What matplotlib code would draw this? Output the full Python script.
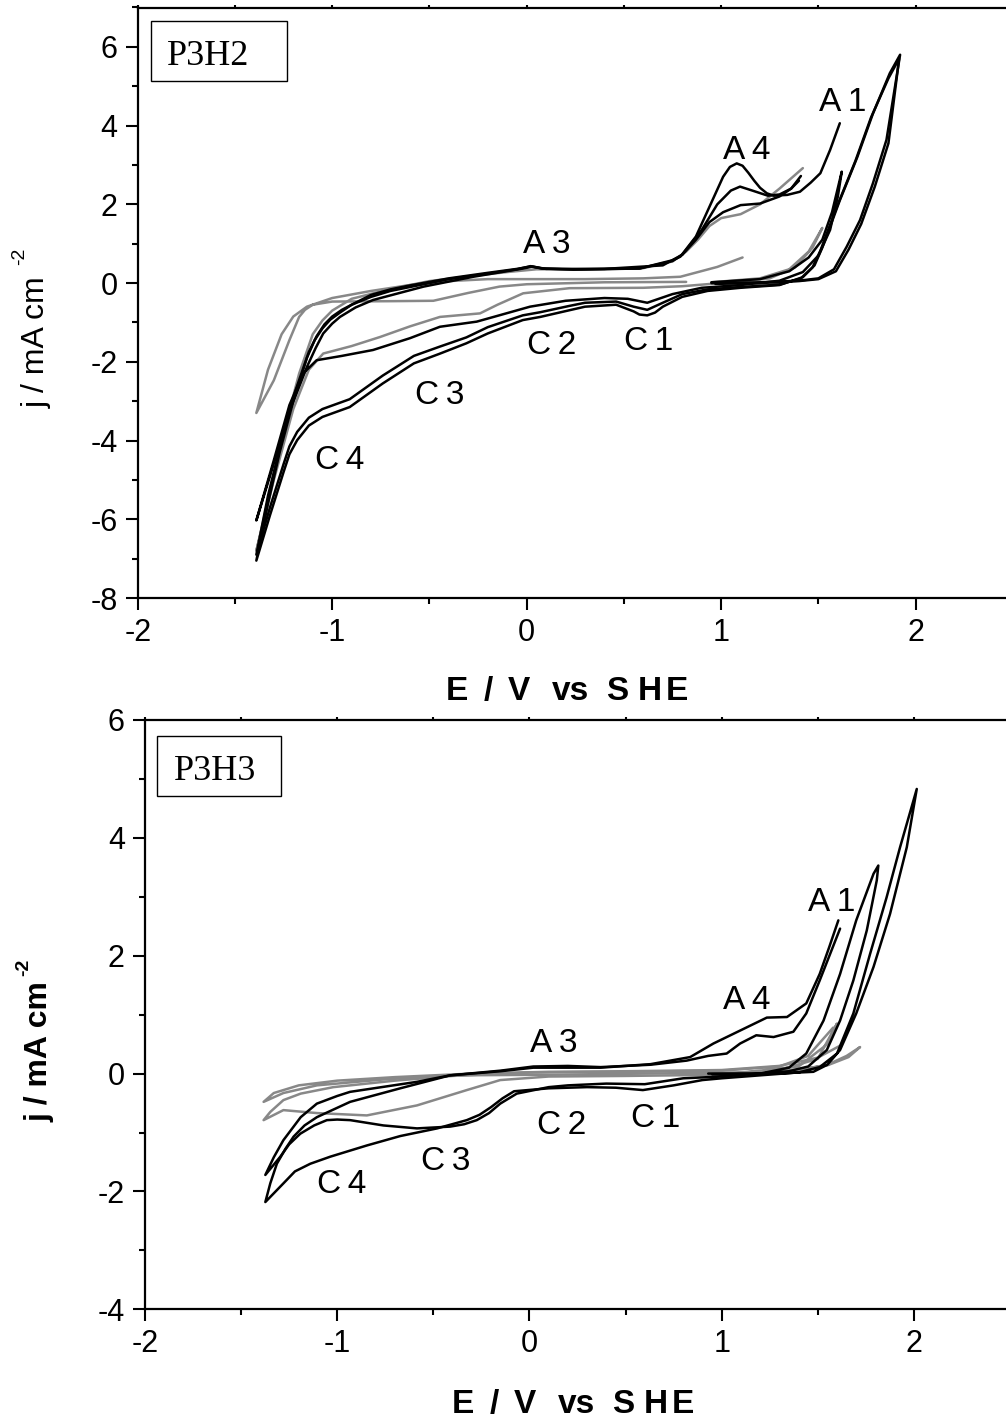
import matplotlib
matplotlib.use("Agg")
import matplotlib.pyplot as plt
from matplotlib.ticker import MultipleLocator
from matplotlib.patches import Rectangle

plt.rcParams['font.family'] = ['Liberation Sans', 'DejaVu Sans']
plt.rcParams['axes.unicode_minus'] = False

BLACK = 'black'
GREY = '#888888'

# ---- P3H2 (top panel) : potential E (V vs SHE) and current density j (mA cm-2)
h2_cyc1_E = [0.95, 1.2, 1.4, 1.5, 1.58, 1.645, 1.714, 1.78, 1.85, 1.92,
             1.867, 1.78, 1.70, 1.61, 1.56, 1.52, 1.48, 1.42, 1.3, 1.1, 0.93, 0.8, 0.7, 0.66, 0.62, 0.58,
             0.55, 0.46, 0.3, 0.22, 0.07, -0.02, -0.2, -0.31, -0.45, -0.58, -0.74, -0.91, -1.05, -1.12,
             -1.18, -1.22, -1.25, -1.32, -1.39,
             -1.33, -1.27, -1.2, -1.13, -1.09, -1.05, -1.01, -0.96, -0.9, -0.8, -0.7, -0.6, -0.4, -0.2,
             -0.05, 0.02, 0.08, 0.24, 0.58, 0.75, 0.79, 0.87, 0.94, 1.01, 1.045, 1.08, 1.11, 1.14, 1.17,
             1.2, 1.235, 1.27, 1.34, 1.405, 1.46, 1.51, 1.56, 1.61]
h2_cyc1_j = [0.0, 0.02, 0.06, 0.12, 0.35, 0.92, 1.6, 2.53, 3.64, 5.8,
             5.33, 4.3, 3.2, 2.1, 1.43, 0.9, 0.45, 0.15, -0.05, -0.12, -0.2, -0.35, -0.6, -0.75, -0.82, -0.8,
             -0.72, -0.55, -0.6, -0.69, -0.86, -0.94, -1.28, -1.53, -1.8, -2.04, -2.55, -3.15, -3.4, -3.62,
             -3.99, -4.35, -4.8, -5.9, -7.05,
             -5.6, -4.3, -3.0, -1.9, -1.45, -1.15, -0.93, -0.75, -0.55, -0.35, -0.2, -0.1, 0.1, 0.24,
             0.35, 0.43, 0.37, 0.35, 0.37, 0.58, 0.67, 1.18, 1.94, 2.7, 2.95, 3.04, 2.98, 2.8, 2.6,
             2.42, 2.28, 2.22, 2.24, 2.32, 2.55, 2.79, 3.38, 4.06]

h2_cyc2_E = [0.97, 1.2, 1.4, 1.5, 1.59, 1.655, 1.72, 1.79, 1.86, 1.915,
             1.86, 1.77, 1.69, 1.6, 1.55, 1.51, 1.47, 1.41, 1.3, 1.1, 0.93, 0.8, 0.7, 0.62, 0.55, 0.46,
             0.3, 0.22, 0.07, -0.02, -0.2, -0.31, -0.45, -0.58, -0.74, -0.91, -1.05, -1.12, -1.18, -1.22,
             -1.25, -1.32, -1.39,
             -1.33, -1.26, -1.19, -1.12, -1.08, -1.04, -1.0, -0.95, -0.88, -0.8, -0.7, -0.6, -0.4, -0.2,
             -0.05, 0.02, 0.08, 0.24, 0.58, 0.75, 0.8, 0.87, 0.94, 1.01, 1.1, 1.2, 1.3, 1.36, 1.40]
h2_cyc2_j = [-0.02, 0.0, 0.05, 0.1, 0.3, 0.85, 1.5, 2.45, 3.55, 5.7,
             5.2, 4.2, 3.1, 2.0, 1.35, 0.82, 0.4, 0.12, -0.04, -0.1, -0.16, -0.28, -0.5, -0.68, -0.6, -0.47,
             -0.5, -0.58, -0.74, -0.82, -1.12, -1.38, -1.62, -1.85, -2.35, -2.95, -3.2, -3.42, -3.78, -4.15,
             -4.6, -5.7, -6.9,
             -5.4, -4.0, -2.75, -1.75, -1.35, -1.05, -0.85, -0.68, -0.5, -0.3, -0.16, -0.06, 0.12, 0.26,
             0.36, 0.42, 0.37, 0.34, 0.37, 0.56, 0.72, 1.1, 1.55, 1.8, 1.98, 2.02, 2.2, 2.4, 2.6]

h2_cyc3_E = [0.95, 1.2, 1.35, 1.45, 1.52, 1.57, 1.62,
             1.6, 1.56, 1.5, 1.42, 1.3, 1.1, 0.9, 0.75, 0.62, 0.52, 0.4, 0.2, 0.017, -0.17, -0.257, -0.446,
             -0.6, -0.79, -0.95, -1.08, -1.15, -1.22, -1.3, -1.39,
             -1.30, -1.217, -1.13, -1.085, -1.046, -1.0, -0.96, -0.88, -0.79, -0.53, -0.275, -0.018, 0.03,
             0.1, 0.4, 0.7, 0.8, 0.9, 0.98, 1.05, 1.097, 1.16, 1.24, 1.3, 1.36, 1.41]
h2_cyc3_j = [0.02, 0.1, 0.3, 0.65, 1.1, 1.8, 2.83,
             2.2, 1.35, 0.7, 0.28, 0.06, -0.05, -0.12, -0.28, -0.5, -0.4, -0.38, -0.45, -0.6, -0.86, -0.98, -1.11,
             -1.4, -1.7, -1.85, -1.96, -2.3, -3.1, -4.5, -6.03,
             -4.58, -3.23, -2.13, -1.65, -1.28, -1.03, -0.86, -0.62, -0.43, -0.09, 0.16, 0.37, 0.42,
             0.36, 0.36, 0.45, 0.72, 1.35, 2.0, 2.35, 2.45, 2.35, 2.22, 2.25, 2.4, 2.72]

h2_grey1_E = [0.95, 1.2, 1.35, 1.45, 1.52, 1.47, 1.38, 1.25, 1.0, 0.8, 0.6, 0.22, -0.018, -0.15, -0.24,
              -0.446, -0.6, -0.754, -0.9, -1.046, -1.12, -1.2, -1.3, -1.39,
              -1.32, -1.25, -1.17, -1.1, -1.05, -1.0, -0.9, -0.7, -0.5, -0.3, -0.1, 0.05, 0.3, 0.6, 0.75,
              0.82, 0.88, 0.94, 1.0, 1.1, 1.2, 1.3, 1.42]
h2_grey1_j = [0.02, 0.12, 0.35, 0.8, 1.4, 0.9, 0.4, 0.12, 0.0, -0.08, -0.12, -0.13, -0.26, -0.55, -0.77,
              -0.86, -1.1, -1.37, -1.6, -1.79, -2.2, -3.2, -5.0, -6.8,
              -5.3, -3.8, -2.3, -1.3, -0.95, -0.7, -0.4, -0.15, 0.05, 0.17, 0.28, 0.35, 0.35, 0.38, 0.55,
              0.8, 1.1, 1.45, 1.65, 1.75, 2.0, 2.4, 2.92]

h2_grey2_E = [0.82, 0.4, 0.0, -0.14, -0.3, -0.48, -0.7, -1.0, -1.1, -1.14, -1.17, -1.22, -1.3, -1.39,
              -1.33, -1.26, -1.2, -1.13, -1.0, -0.8, -0.6, -0.4, -0.2, 0.0, 0.3, 0.6, 0.79, 0.98, 1.11]
h2_grey2_j = [0.03, 0.02, -0.03, -0.09, -0.25, -0.45, -0.46, -0.47, -0.55, -0.68, -0.86, -1.45, -2.47, -3.3,
              -2.2, -1.3, -0.85, -0.6, -0.38, -0.2, -0.05, 0.05, 0.1, 0.1, 0.1, 0.12, 0.16, 0.41, 0.65]

# ---- P3H3 (bottom panel)
h3_cyc1_E = [0.93, 1.2, 1.35, 1.477, 1.55, 1.616, 1.70, 1.79, 1.876, 1.963, 2.015,
             1.928, 1.858, 1.772, 1.685, 1.6, 1.51, 1.4, 1.2, 1.0, 0.9, 0.75, 0.59, 0.45, 0.3, 0.1, -0.08,
             -0.14, -0.2, -0.26, -0.326, -0.48, -0.672, -0.846, -1.036, -1.14, -1.22, -1.279, -1.374,
             -1.348, -1.314, -1.27, -1.227, -1.17, -1.106, -0.933, -0.672, -0.413, -0.15, 0.02, 0.2, 0.37,
             0.63, 0.818, 0.93, 1.026, 1.096, 1.18, 1.27, 1.373, 1.44, 1.51, 1.616]
h3_cyc1_j = [0.0, 0.0, 0.01, 0.03, 0.15, 0.4, 1.02, 1.81, 2.71, 3.84, 4.83,
             3.84, 2.99, 2.03, 1.02, 0.34, 0.11, 0.02, -0.03, -0.08, -0.11, -0.2, -0.28, -0.24, -0.23, -0.25, -0.3,
             -0.42, -0.57, -0.7, -0.79, -0.93, -1.06, -1.22, -1.41, -1.53, -1.66, -1.86, -2.18,
             -1.86, -1.53, -1.28, -1.07, -0.88, -0.74, -0.48, -0.25, -0.03, 0.05, 0.12, 0.13, 0.11,
             0.15, 0.22, 0.3, 0.34, 0.51, 0.65, 0.62, 0.71, 1.02, 1.58, 2.46]

h3_cyc2_E = [0.95, 1.2, 1.35, 1.45, 1.547, 1.616, 1.685, 1.755, 1.807, 1.815,
             1.79, 1.70, 1.616, 1.53, 1.44, 1.35, 1.2, 1.0, 0.8, 0.6, 0.4, 0.2, 0.1, -0.066, -0.152, -0.21,
             -0.274, -0.34, -0.413, -0.585, -0.76, -0.933, -1.0, -1.054, -1.12, -1.192, -1.25, -1.296, -1.374,
             -1.33, -1.28, -1.19, -1.106, -1.0, -0.933, -0.585, -0.413, -0.15, 0.02, 0.37, 0.63, 0.836,
             0.957, 1.096, 1.235, 1.34, 1.44, 1.51, 1.56, 1.607]
h3_cyc2_j = [-0.01, 0.0, 0.04, 0.12, 0.4, 0.9, 1.58, 2.43, 3.28, 3.53,
             3.39, 2.6, 1.69, 0.9, 0.34, 0.1, 0.0, -0.05, -0.08, -0.18, -0.17, -0.2, -0.23, -0.34, -0.51, -0.67,
             -0.79, -0.86, -0.9, -0.93, -0.88, -0.79, -0.78, -0.79, -0.88, -1.02, -1.2, -1.41, -1.72,
             -1.42, -1.13, -0.74, -0.51, -0.38, -0.31, -0.14, -0.03, 0.04, 0.1, 0.1, 0.16, 0.28,
             0.51, 0.73, 0.95, 0.96, 1.19, 1.69, 2.15, 2.6]

h3_grey1_E = [0.95, 1.2, 1.4, 1.55, 1.65, 1.72, 1.66, 1.55, 1.4, 1.1, 0.6, 0.1, -0.41, -0.76, -1.106, -1.28,
              -1.383, -1.33, -1.2, -1.0, -0.7, -0.3, 0.1, 0.5, 1.0, 1.3, 1.5, 1.62]
h3_grey1_j = [-0.01, 0.02, 0.06, 0.15, 0.3, 0.45, 0.28, 0.14, 0.07, 0.02, 0.0, -0.02, -0.03, -0.1, -0.2, -0.33,
              -0.48, -0.33, -0.2, -0.12, -0.06, 0.0, 0.03, 0.04, 0.06, 0.13, 0.27, 0.48]

h3_grey2_E = [0.95, 1.3, 1.5, 1.6, 1.55, 1.4, 1.0, 0.5, 0.1, -0.152, -0.326, -0.585, -0.846, -1.106, -1.28,
              -1.383, -1.348, -1.28, -1.19, -1.02, -0.7, -0.4, 0.0, 0.5, 1.0, 1.3, 1.45, 1.58]
h3_grey2_j = [-0.02, 0.06, 0.25, 0.85, 0.5, 0.12, -0.02, -0.04, -0.05, -0.11, -0.28, -0.54, -0.71, -0.67, -0.62,
              -0.79, -0.65, -0.45, -0.34, -0.23, -0.12, -0.04, 0.02, 0.03, 0.05, 0.12, 0.3, 0.78]

# peak labels: text, E, j
h2_peaks = [("A\u20091", 1.626, 4.58), ("A\u20094", 1.131, 3.38), ("A\u20093", 0.103, 0.97),
            ("C\u20092", 0.128, -1.58), ("C\u20091", 0.625, -1.49), ("C\u20093", -0.446, -2.85),
            ("C\u20094", -0.96, -4.5)]
h3_peaks = [("A\u20091", 1.572, 2.91), ("A\u20094", 1.13, 1.24), ("A\u20093", 0.125, 0.51),
            ("C\u20092", 0.168, -0.88), ("C\u20091", 0.654, -0.76), ("C\u20093", -0.438, -1.5),
            ("C\u20094", -0.976, -1.89)]

# x axis title, written piece by piece (wide letter spacing of the original)
xtitle_parts = ["E", "/", "V", "vs", "S", "H", "E"]
xtitle_px = [457, 488, 519, 570, 617, 650, 677]

W, H = 1006, 1420
fig = plt.figure(figsize=(W / 100, H / 100), dpi=100)

def px_axes(left, right, top, bottom):
    return fig.add_axes([left / W, 1 - bottom / H, (right - left) / W, (bottom - top) / H])

ax1 = px_axes(137.7, 1012.9, 7.5, 598)
ax2 = px_axes(145, 1010, 720, 1309.3)

def style(ax, ylim, ytick):
    ax.set_xlim(-2, 2.5)
    ax.set_ylim(*ylim)
    ax.xaxis.set_major_locator(MultipleLocator(1))
    ax.xaxis.set_minor_locator(MultipleLocator(0.5))
    ax.yaxis.set_major_locator(MultipleLocator(ytick))
    ax.yaxis.set_minor_locator(MultipleLocator(ytick / 2))
    for s in ax.spines.values():
        s.set_linewidth(1.6)
    ax.spines['right'].set_visible(False)
    ax.tick_params(which='both', direction='out', width=1.5, labelsize=22)
    ax.tick_params(which='major', length=8.5, pad=6)
    ax.tick_params(which='minor', length=4)
    ax.tick_params(axis='x', which='both', top=True, labeltop=False)
    for t in ax.xaxis.get_ticklines(minor=False)[1::2] + ax.xaxis.get_ticklines(minor=True)[1::2]:
        t.set_markersize(2)

style(ax1, (-8, 7), 2)
style(ax2, (-4, 6), 2)

def curve(ax, E, j, color):
    ax.plot(E, j, color=color, lw=1.8, solid_joinstyle='round', solid_capstyle='round')

curve(ax1, h2_grey1_E, h2_grey1_j, GREY)
curve(ax1, h2_grey2_E, h2_grey2_j, GREY)
curve(ax1, h2_cyc1_E, h2_cyc1_j, BLACK)
curve(ax1, h2_cyc2_E, h2_cyc2_j, BLACK)
curve(ax1, h2_cyc3_E, h2_cyc3_j, BLACK)

curve(ax2, h3_grey1_E, h3_grey1_j, GREY)
curve(ax2, h3_grey2_E, h3_grey2_j, GREY)
curve(ax2, h3_cyc1_E, h3_cyc1_j, BLACK)
curve(ax2, h3_cyc2_E, h3_cyc2_j, BLACK)

for ax, peaks in ((ax1, h2_peaks), (ax2, h3_peaks)):
    for lab, x, y in peaks:
        ax.text(x, y, lab, fontsize=24, ha='center', va='center')

# sample boxes
ax1.add_patch(Rectangle((0.0152, 0.8755), 0.1554, 0.1016, transform=ax1.transAxes,
                        fill=False, ec='black', lw=1.0, clip_on=False))
ax1.text(0.0335, 0.9026, "P3H2", transform=ax1.transAxes, family='Liberation Serif',
         fontsize=26, ha='left', va='baseline')
ax2.add_patch(Rectangle((0.0139, 0.871), 0.1433, 0.1024, transform=ax2.transAxes,
                        fill=False, ec='black', lw=1.0, clip_on=False))
ax2.text(0.0335, 0.898, "P3H3", transform=ax2.transAxes, family='Liberation Serif',
         fontsize=26, ha='left', va='baseline')

# axis titles
for base_y, dx in ((700, 0), (1413, 6)):
    for part, xp in zip(xtitle_parts, xtitle_px):
        fig.text((xp + dx) / W, 1 - base_y / H, part, fontsize=24, fontweight='bold',
                 ha='center', va='baseline')

fig.text(37 / W, 1 - 342 / H, "j / mA cm", fontsize=23, rotation=90, ha='center', va='center')
fig.text(20 / W, 1 - 256 / H, "-2", fontsize=14, rotation=90, ha='center', va='center')
fig.text(40 / W, 1 - 1052 / H, "j / mA cm", fontsize=23, fontweight='bold', rotation=90,
         ha='center', va='center')
fig.text(24 / W, 1 - 967 / H, "-2", fontsize=14, fontweight='bold', rotation=90,
         ha='center', va='center')

fig.savefig("out.png", dpi=100)
